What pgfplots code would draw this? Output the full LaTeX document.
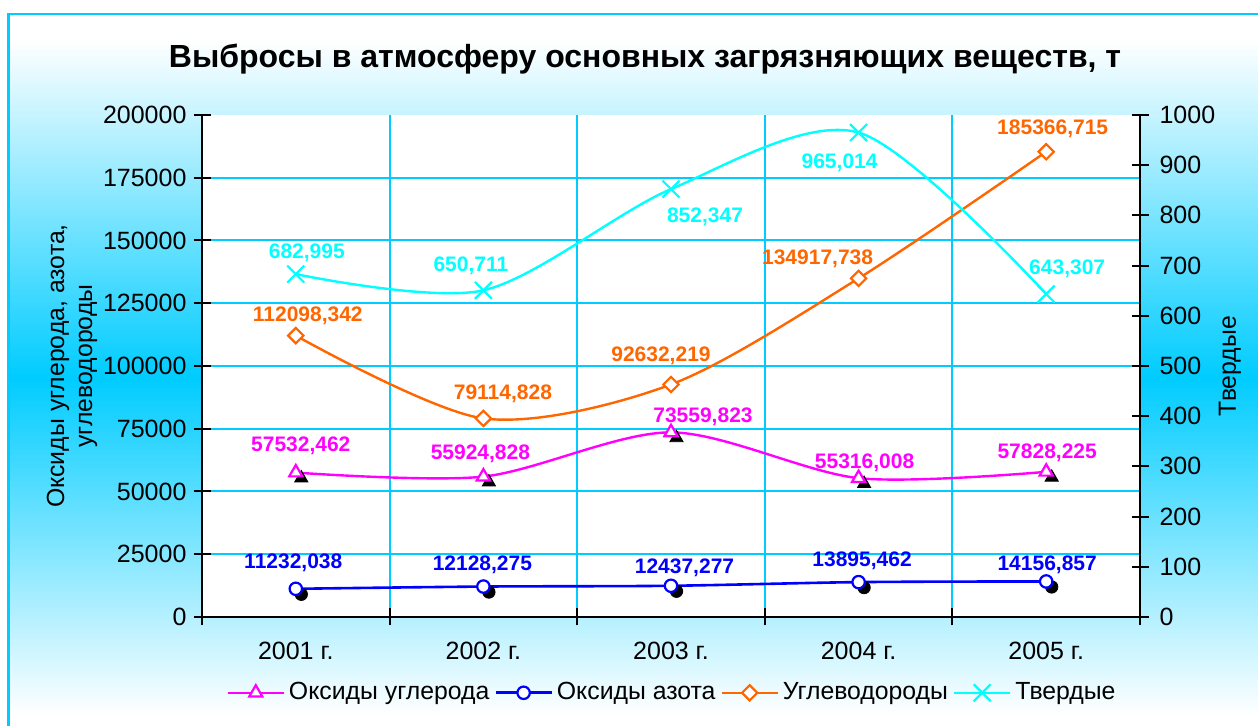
\documentclass[border=0pt]{standalone}
\usepackage{fontspec}
\setmainfont{Liberation Sans}
\usepackage{pgfplots}
\pgfplotsset{compat=1.18}
\usepackage{pgfplotstable}

\definecolor{sky}{RGB}{0,204,255}
\definecolor{co}{RGB}{255,0,255}
\definecolor{no}{RGB}{0,0,255}
\definecolor{ch}{RGB}{255,102,0}
\definecolor{pm}{RGB}{0,255,255}

% columns: year index, value, label text, label offset dx dy (pt)
\pgfplotstableread{
x y lab dx dy
1 57532.462 57532,462 2.5 13.5
2 55924.828 55924,828 -1.5 11.5
3 73559.823 73559,823 16 8
4 55316.008 55316,008 3 7.5
5 57828.225 57828,225 0.5 9.5
}\carbon
\pgfplotstableread{
x y lab dx dy
1 11232.038 11232,038 -1.25 13
2 12128.275 12128,275 -0.5 11
3 12437.277 12437,277 6.75 9
4 13895.462 13895,462 1.75 10.5
5 14156.857 14156,857 0.5 8.5
}\nitrogen
\pgfplotstableread{
x y lab dx dy
1 112098.342 112098,342 6 10
2 79114.828 79114,828 9.75 12.5
3 92632.219 92632,219 -5 14.5
4 134917.738 134917,738 -20.5 10
5 185366.715 185366,715 3.25 11.5
}\hydro
\pgfplotstableread{
x y lab dx dy
1 682.995 682,995 5.5 10.5
2 650.711 650,711 -6.25 12.5
3 852.347 852,347 17 -14
4 965.014 965,014 -9.5 -15
5 643.307 643,307 10.5 12.5
}\solid

\pgfplotsset{
  base/.style={
    at={(101pt,54.5pt)}, anchor=south west,
    width=469pt, height=251pt, scale only axis,
    xmin=0.5, xmax=5.5, clip=false,
    tick align=center, major tick length=8.5pt,
    tick style={line width=1pt, black},
    tick label style={font=\fontsize{12.5}{14}\selectfont},
    /pgf/number format/assume math mode=true,
    scaled y ticks=false,
    yticklabel style={/pgf/number format/fixed, /pgf/number format/1000 sep={}},
  },
  nolines/.style={
    axis line style={-, line width=1pt, black},
    every inner x axis line/.append style={-},
    every outer x axis line/.append style={-},
    every inner y axis line/.append style={-},
    every outer y axis line/.append style={-},
  },
  lbl/.style={
    point meta=explicit symbolic, nodes near coords,
    visualization depends on={\thisrow{dx} \as \dx},
    visualization depends on={\thisrow{dy} \as \dy},
    nodes near coords style={font=\fontsize{10.5}{12}\selectfont\bfseries,
      text=#1, anchor=center, xshift=\dx pt, yshift=\dy pt},
  },
  shadow/.style={only marks, black, mark options={xshift=2.75pt, yshift=-2.75pt}},
}

\begin{document}
\begin{tikzpicture}
\path[use as bounding box] (0,0) rectangle (629pt,363pt);
\begin{scope}
  \clip (0,0) rectangle (629pt,363pt);
  \fill[white] (4.25pt,-8pt) rectangle (640pt,356pt);
  \shade[top color=white, bottom color=white, middle color=sky] (4.25pt,5.5pt) rectangle (640pt,343pt);
  \draw[sky, line width=1.3pt] (4.25pt,-8pt) rectangle (640pt,356pt);
\end{scope}

\begin{axis}[base,
  ymin=0, ymax=200000,
  axis x line=bottom, axis y line=left, nolines,
  xtick={0.5,1.5,2.5,3.5,4.5,5.5}, x tick label as interval,
  xticklabels={2001 г.,2002 г.,2003 г.,2004 г.,2005 г.},
  xticklabel style={yshift=-4.5pt},
  ytick={0,25000,...,175000},
  extra y ticks={200000}, extra y tick style={grid=none},
  xmajorgrids, ymajorgrids, grid style={sky, line width=1pt},
  axis background/.style={fill=white},
  title={Выбросы в атмосферу основных загрязняющих веществ, т},
  title style={at={(axis description cs:0.4723,1)}, anchor=base, yshift=17.5pt,
    font=\fontsize{16}{19}\selectfont\bfseries},
  ylabel={Оксиды углерода, азота,\\углеводороды},
  every axis y label/.style={at={(axis description cs:-0.1386,0.5)}, rotate=90,
    anchor=center, align=center, font=\fontsize{12.4}{14}\selectfont},
]
% shadows under the markers
\addplot[shadow, mark=triangle*, mark size=3.8pt] table[x=x,y=y] {\carbon};
\addplot[shadow, mark=*, mark size=3.1pt] table[x=x,y=y] {\nitrogen};
\addplot[shadow, mark=square*, mark size=2.7pt, mark options={rotate=45}] table[x=x,y=y] {\hydro};

\addplot[co, line width=1.2pt, smooth, mark=triangle*, mark size=3.8pt,
  mark options={fill=white, line width=1.1pt}, lbl=co] table[x=x,y=y,meta=lab] {\carbon};
\addplot[no, line width=1.3pt, smooth, mark=*, mark size=3.1pt,
  mark options={fill=white, line width=1.1pt}, lbl=no] table[x=x,y=y,meta=lab] {\nitrogen};
\addplot[ch, line width=1.2pt, smooth, mark=square*, mark size=2.7pt,
  mark options={fill=white, line width=1.1pt, rotate=45}, lbl=ch] table[x=x,y=y,meta=lab] {\hydro};
\end{axis}

\begin{axis}[base,
  ymin=0, ymax=1000,
  axis x line=none, axis y line*=right, nolines,
  ytick distance=100,
  ylabel={Твердые},
  every axis y label/.style={at={(axis description cs:1.0959,0.5)}, rotate=90,
    anchor=center, font=\fontsize{12.4}{14}\selectfont},
  yticklabel style={xshift=2pt},
  legend style={at={(axis description cs:0.5022,-0.151)}, anchor=center,
    draw=none, fill=none, legend columns=4, font=\fontsize{12.4}{14}\selectfont,
    /tikz/every even column/.append style={column sep=0.5pt}},
  legend image code/.code={\draw[mark repeat=2, mark phase=2, #1]
    plot coordinates {(0pt,0pt) (14pt,0pt) (28pt,0pt)};},
]
\addlegendimage{co, line width=1.2pt, mark=triangle*, mark size=3.8pt, mark options={fill=white, line width=1.1pt}}
\addlegendentry{Оксиды углерода}
\addlegendimage{no, line width=1.3pt, mark=*, mark size=3.1pt, mark options={fill=white, line width=1.1pt}}
\addlegendentry{Оксиды азота}
\addlegendimage{ch, line width=1.2pt, mark=square*, mark size=2.7pt, mark options={fill=white, line width=1.1pt, rotate=45}}
\addlegendentry{Углеводороды}
\addplot[pm, line width=1.2pt, smooth, mark=x, mark size=6pt,
  mark options={line width=1.1pt}, lbl=pm] table[x=x,y=y,meta=lab] {\solid};
\addlegendentry{Твердые}
\end{axis}
\end{tikzpicture}
\end{document}
